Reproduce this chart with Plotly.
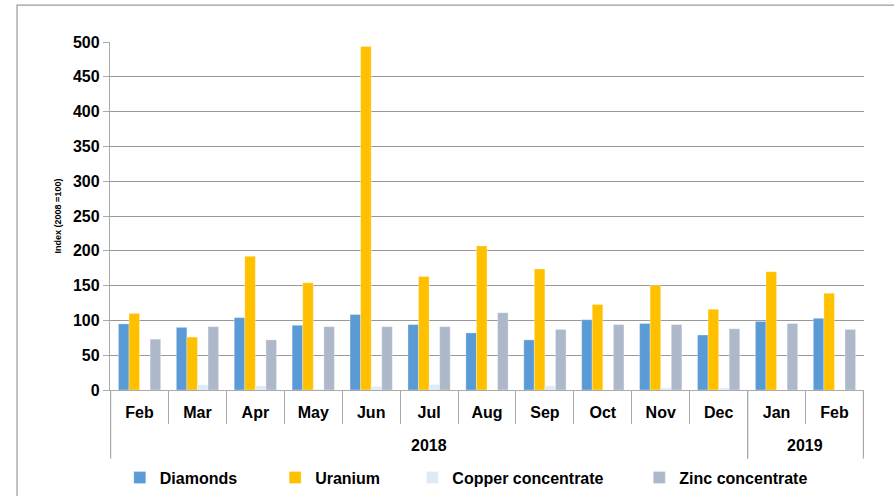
import plotly.graph_objects as go

months = ["Feb", "Mar", "Apr", "May", "Jun", "Jul", "Aug", "Sep", "Oct", "Nov", "Dec", "Jan", "Feb"]
years = ["2018"] * 11 + ["2019"] * 2

diamonds = [95, 90, 104, 93, 108.5, 94, 82, 72, 101, 95.5, 79, 98.5, 103]
uranium = [110, 76, 192, 154, 493.5, 163, 207, 174, 123, 150, 116, 170, 139]
copper = [0, 7.5, 6, 1, 5, 8, 0, 6, 0, 3, 3, 0, 0]
zinc = [73, 91, 72, 91, 91, 91, 111, 87, 94, 94, 88, 95.5, 87]

series = [
    ("Diamonds", diamonds, "#5B9BD5"),
    ("Uranium", uranium, "#FFC000"),
    ("Copper concentrate", copper, "#DEEBF7"),
    ("Zinc concentrate", zinc, "#ADB9CA"),
]
legend_x = [0.013, 0.219, 0.401, 0.702]

FONT = "Liberation Sans, Arial, sans-serif"
keys = [f"{m} {y}" for m, y in zip(months, years)]

fig = go.Figure()
for i, (name, vals, col) in enumerate(series):
    lg = "legend" if i == 0 else f"legend{i+1}"
    fig.add_trace(go.Bar(
        x=keys, y=vals, name=name, legend=lg,
        marker=dict(color=col, line=dict(color="rgba(255,255,255,0.6)", width=0.5)),
    ))

legend_common = dict(orientation="h", xanchor="left", y=-0.252, yanchor="middle",
                     font=dict(size=16, family=FONT, color="black", weight="bold"),
                     itemwidth=30, bgcolor="rgba(0,0,0,0)")
layout_legends = {}
for i, lx in enumerate(legend_x):
    lg = "legend" if i == 0 else f"legend{i+1}"
    layout_legends[lg] = dict(x=lx, **legend_common)

fig.update_layout(
    width=894, height=496,
    margin=dict(l=110, r=30, t=42, b=106, autoexpand=False),
    paper_bgcolor="white", plot_bgcolor="white",
    barmode="group", bargap=0.27, bargroupgap=0,
    font=dict(family=FONT, color="black"),
    showlegend=True,
    **layout_legends,
)
fig.update_yaxes(
    range=[0, 500], dtick=50, showgrid=True, gridcolor="#999999", gridwidth=1.3,
    showline=True, linecolor="#AAAAAA", linewidth=1.3,
    ticks="outside", ticklen=6, tickcolor="#AAAAAA",
    tickfont=dict(size=16, family=FONT, color="black", weight="bold"),
    title=dict(text="Index (2008 =100)", font=dict(size=9, family=FONT, color="black", weight="bold"), standoff=9),
    zeroline=False,
)
fig.update_xaxes(
    type="category", tickvals=keys, ticktext=months,
    showline=True, linecolor="#AAAAAA", linewidth=1.3,
    ticks="outside", tickson="boundaries", ticklen=33, tickcolor="#AAAAAA", tickwidth=1.2,
    ticklabelstandoff=8,
    tickfont=dict(size=16, family=FONT, color="black", weight="bold"),
)

# year group labels and dividers
groups = []
for idx, y in enumerate(years):
    if not groups or groups[-1][0] != y:
        groups.append([y, idx, idx])
    else:
        groups[-1][2] = idx
for y, a, b in groups:
    fig.add_annotation(xref="x", yref="paper", x=(a + b) / 2, y=-0.16, text=y,
                       showarrow=False, yanchor="middle",
                       font=dict(size=16, family=FONT, color="black", weight="bold"))
    for xb in (a - 0.5, b + 0.5):
        fig.add_shape(type="line", xref="x", yref="paper", x0=xb, x1=xb, y0=0, y1=-0.197,
                      line=dict(color="#AAAAAA", width=1.2))

fig.add_shape(type="rect", xref="paper", yref="paper",
              x0=-0.1233, x1=1.2, y0=-0.5, y1=1.106,
              line=dict(color="#9A9A9A", width=1.2), fillcolor="rgba(0,0,0,0)", layer="below")

fig.write_html("out.html", config={"displayModeBar": False},
               post_script="document.body.style.margin='0px';")
